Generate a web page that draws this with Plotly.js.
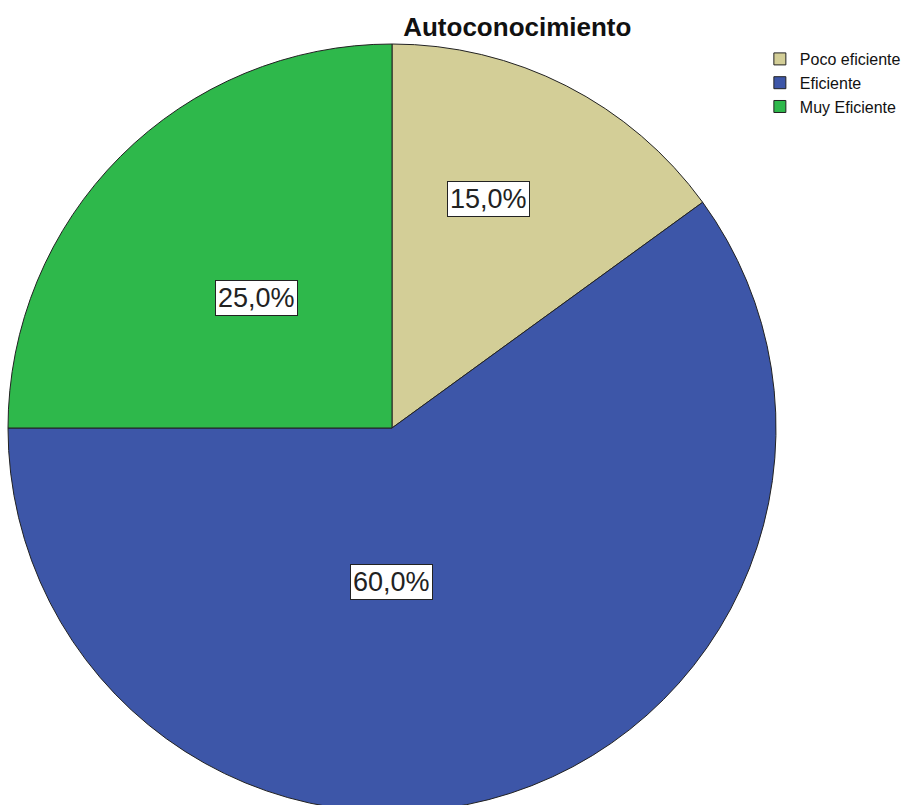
<!DOCTYPE html>
<html>
<head>
<meta charset="utf-8">
<script src="https://cdn.plot.ly/plotly-3.0.1.min.js"></script>
<style>
html, body { margin: 0; padding: 0; width: 914px; height: 805px; overflow: hidden; background: #fff; }
#chart { width: 914px; height: 820px; }
</style>
</head>
<body>
<div id="chart"></div>
<script>
const categories = ["Poco eficiente", "Eficiente", "Muy Eficiente"];
const percents = [15.0, 60.0, 25.0];
const sliceColors = ["#D3CE97", "#3D56A8", "#2EB84B"];
const chartTitle = "Autoconocimiento";

function fmt(v) { return v.toFixed(1).replace(".", ",") + "%"; }

// label box positions (paper coords) approximating the reference placement
const labelSpots = [[0.625, 0.7974], [0.4987, 0.300], [0.3242, 0.6688]];

const trace = {
  type: "pie",
  labels: categories,
  values: percents,
  sort: false,
  direction: "clockwise",
  rotation: 0,
  marker: { colors: sliceColors, line: { color: "#222222", width: 1 } },
  textinfo: "none",
  hoverinfo: "label+percent"
};

const annotations = percents.map((v, i) => ({
  xref: "paper", yref: "paper",
  x: labelSpots[i][0], y: labelSpots[i][1],
  xanchor: "center", yanchor: "middle",
  text: fmt(v), showarrow: false,
  font: { family: "Liberation Sans, Arial, sans-serif", size: 27, color: "#222222" },
  bgcolor: "#ffffff", bordercolor: "#222222", borderwidth: 1, borderpad: 2
}));

const layout = {
  width: 914, height: 820,
  margin: { l: 8, r: 138, t: 43, b: 7, pad: 0 },
  paper_bgcolor: "#ffffff",
  title: {
    text: "<b>" + chartTitle + "</b>",
    font: { family: "Liberation Sans, Arial, sans-serif", size: 26, color: "#111111" },
    x: 0.566, xref: "container", xanchor: "center",
    y: 1 - 27 / 820, yref: "container", yanchor: "middle"
  },
  showlegend: true,
  legend: {
    x: 0.979, y: 1.0013, xanchor: "left", yanchor: "top",
    font: { family: "Liberation Sans, Arial, sans-serif", size: 16, color: "#111111" },
    itemwidth: 30, tracegroupgap: 0, bgcolor: "rgba(0,0,0,0)"
  },
  annotations: annotations
};

Plotly.newPlot("chart", [trace], layout, { displayModeBar: false, staticPlot: true });
</script>
</body>
</html>
